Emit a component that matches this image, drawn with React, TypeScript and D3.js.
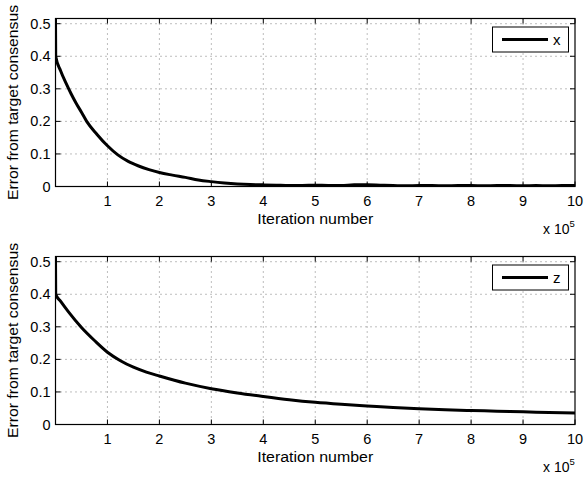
import React from "react";
import * as d3 from "d3";

// iteration number in units of 1e5
const iterX = [0, 0.004, 0.1, 0.2, 0.3, 0.4, 0.5, 0.6, 0.8, 1.0, 1.2, 1.4, 1.6, 1.8, 2.0, 2.25, 2.5, 2.75, 3.0, 3.25, 3.5, 3.75, 4.0, 4.25, 4.5, 4.75, 5.0, 5.25, 5.5, 5.75, 6.0, 6.25, 6.5, 6.75, 7.0, 7.25, 7.5, 7.75, 8.0, 8.25, 8.5, 8.75, 9.0, 9.25, 9.5, 9.75, 10.0];
const errorX = [0.52, 0.4, 0.355, 0.318, 0.285, 0.255, 0.228, 0.2, 0.16, 0.125, 0.097, 0.077, 0.063, 0.052, 0.043, 0.035, 0.028, 0.02, 0.015, 0.011, 0.008, 0.006, 0.005, 0.004, 0.003, 0.003, 0.004, 0.003, 0.003, 0.005, 0.005, 0.004, 0.003, 0.002, 0.003, 0.003, 0.002, 0.003, 0.003, 0.002, 0.003, 0.003, 0.002, 0.003, 0.002, 0.003, 0.003];

const iterZ = [0, 0.004, 0.1, 0.25, 0.5, 0.75, 1.0, 1.25, 1.5, 1.75, 2.0, 2.5, 3.0, 3.5, 4.0, 4.5, 5.0, 5.5, 6.0, 6.5, 7.0, 7.5, 8.0, 8.5, 9.0, 9.5, 10.0];
const errorZ = [0.52, 0.4, 0.378, 0.346, 0.298, 0.258, 0.222, 0.196, 0.176, 0.161, 0.149, 0.127, 0.11, 0.097, 0.086, 0.076, 0.068, 0.062, 0.057, 0.052, 0.048, 0.045, 0.043, 0.041, 0.039, 0.037, 0.035];

const xTicks = [1, 2, 3, 4, 5, 6, 7, 8, 9, 10];
const yTicks = [0, 0.1, 0.2, 0.3, 0.4, 0.5];

const W = 585;
const H = 477;
const font = "'Liberation Sans', Arial, Helvetica, sans-serif";
const fs = 14;

interface PanelProps {
  top: number;
  xs: number[];
  ys: number[];
  label: string;
  id: string;
}

const Panel: React.FC<PanelProps> = ({ top, xs, ys, label, id }) => {
  const left = 55.5;
  const right = 575;
  const height = 168;
  const bottom = top + height;

  const x = d3.scaleLinear().domain([0, 10]).range([left, right]);
  const y = d3.scaleLinear().domain([0, 0.516]).range([bottom, top]);

  const line = d3
    .line<number>()
    .x((_, i) => x(xs[i]))
    .y((d) => y(d))
    .curve(d3.curveMonotoneX);

  return (
    <g>
      <defs>
        <clipPath id={id}>
          <rect x={left} y={top} width={right - left} height={height} />
        </clipPath>
      </defs>
      {/* grid */}
      {xTicks.slice(0, -1).map((t) => (
        <line key={"gx" + t} x1={x(t)} x2={x(t)} y1={top} y2={bottom} stroke="#444" strokeWidth={0.7} strokeDasharray="1,4" />
      ))}
      {yTicks.slice(1).map((t) => (
        <line key={"gy" + t} x1={left} x2={right} y1={y(t)} y2={y(t)} stroke="#444" strokeWidth={0.7} strokeDasharray="1,4" />
      ))}
      {/* ticks */}
      {xTicks.map((t) => (
        <g key={"tx" + t}>
          <line x1={x(t)} x2={x(t)} y1={bottom} y2={bottom - 5} stroke="#000" />
          <line x1={x(t)} x2={x(t)} y1={top} y2={top + 5} stroke="#000" />
          <text x={x(t)} y={bottom + 19} textAnchor="middle" fontSize={fs + 0.5} fontFamily={font}>{t}</text>
        </g>
      ))}
      {yTicks.map((t) => (
        <g key={"ty" + t}>
          <line x1={left} x2={left + 5} y1={y(t)} y2={y(t)} stroke="#000" />
          <line x1={right} x2={right - 5} y1={y(t)} y2={y(t)} stroke="#000" />
          <text x={left - 5} y={y(t) + 5} textAnchor="end" fontSize={fs + 0.5} fontFamily={font}>{t}</text>
        </g>
      ))}
      <path d={line(ys) || ""} fill="none" stroke="#000" strokeWidth={3} strokeLinejoin="round" clipPath={`url(#${id})`} />
      <rect x={left} y={top} width={right - left} height={height} fill="none" stroke="#000" strokeWidth={1.2} />
      {/* legend */}
      <rect x={492.5} y={top + 8.5} width={76} height={25} fill="#fff" stroke="#000" strokeWidth={1} />
      <line x1={502} x2={548} y1={top + 21} y2={top + 21} stroke="#000" strokeWidth={3} />
      <text x={553} y={top + 26} fontSize={fs + 1} fontFamily={font}>{label}</text>
      {/* labels */}
      <text x={(left + right) / 2} y={bottom + 37} textAnchor="middle" fontSize={fs} fontFamily={font} textLength={116} lengthAdjust="spacingAndGlyphs">Iteration number</text>
      <text x={543} y={bottom + 47.5} fontSize={fs} fontFamily={font}>
        x 10<tspan dy={-7} fontSize={9.5}>5</tspan>
      </text>
      <text transform={`translate(18,${(top + bottom) / 2}) rotate(-90)`} textAnchor="middle" fontSize={fs} fontFamily={font} textLength={195} lengthAdjust="spacingAndGlyphs">
        Error from target consensus
      </text>
    </g>
  );
};

export default function App() {
  return (
    <svg width={W} height={H} style={{ position: "absolute", left: 0, top: 0, background: "#fff" }}>
      <rect width={W} height={H} fill="#fff" />
      <Panel top={18.5} xs={iterX} ys={errorX} label="x" id="c1" />
      <Panel top={256.5} xs={iterZ} ys={errorZ} label="z" id="c2" />
    </svg>
  );
}
